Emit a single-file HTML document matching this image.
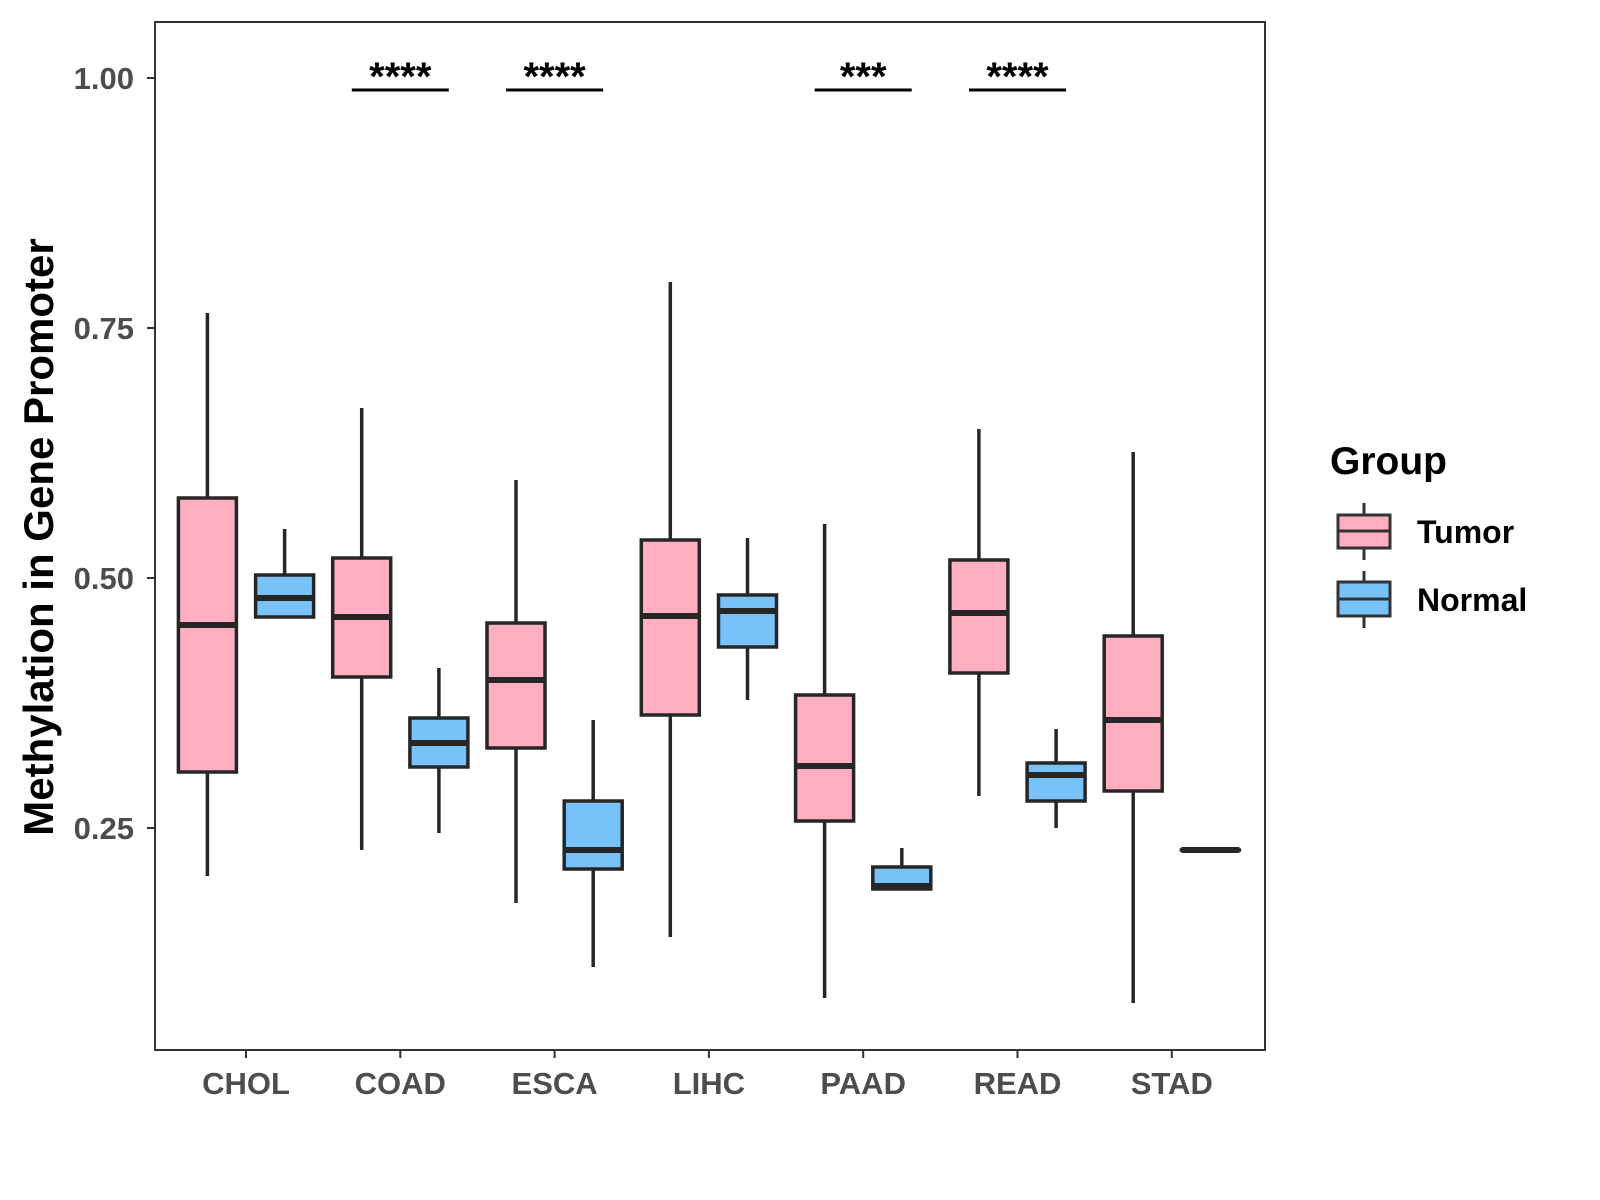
<!DOCTYPE html>
<html><head><meta charset="utf-8"><style>
body{margin:0;background:#fff}
svg{display:block;font-family:"Liberation Sans",Arial,sans-serif}
</style></head><body>
<svg id="chart" width="1600" height="1200" viewBox="0 0 1600 1200" xmlns="http://www.w3.org/2000/svg">
<rect x="155" y="22" width="1110" height="1028" fill="#fff" stroke="#333" stroke-width="2"/>
<g id="yaxis"></g>
<g id="xaxis"></g>
<g id="boxes"></g>
<g id="sig"></g>
<text transform="translate(53,537) rotate(-90)" text-anchor="middle" font-size="42" font-weight="bold" fill="#000">Methylation in Gene Promoter</text>
<g>
<text x="1330" y="474" font-size="39" font-weight="bold">Group</text>
<g>
<line x1="1364" y1="503" x2="1364" y2="560" stroke="#333" stroke-width="3"/>
<rect x="1338" y="515" width="52" height="33" fill="#FFAFC1" stroke="#333" stroke-width="3"/>
<line x1="1338" y1="531" x2="1390" y2="531" stroke="#333" stroke-width="3"/>
<text x="1417" y="543" font-size="32" font-weight="bold">Tumor</text></g>
<g>
<line x1="1364" y1="571" x2="1364" y2="628" stroke="#333" stroke-width="3"/>
<rect x="1338" y="582" width="52" height="34" fill="#79C2F9" stroke="#333" stroke-width="3"/>
<line x1="1338" y1="599" x2="1390" y2="599" stroke="#333" stroke-width="3"/>
<text x="1417" y="611" font-size="32" font-weight="bold">Normal</text></g>
</g>
</svg>
<script>
const categories=["CHOL","COAD","ESCA","LIHC","PAAD","READ","STAD"];
// [lowWhisker, q1, median, q3, highWhisker]
const tumorStats=[[0.202,0.306,0.453,0.580,0.765],[0.228,0.401,0.461,0.520,0.670],[0.175,0.330,0.398,0.455,0.598],[0.141,0.363,0.462,0.538,0.796],[0.080,0.257,0.312,0.383,0.554],[0.282,0.405,0.465,0.518,0.649],[0.075,0.287,0.358,0.442,0.626]];
const normalStats=[[0.461,0.461,0.480,0.503,0.549],[0.245,0.311,0.335,0.360,0.410],[0.111,0.209,0.228,0.277,0.358],[0.378,0.431,0.467,0.483,0.540],[0.189,0.189,0.192,0.211,0.230],[0.250,0.277,0.303,0.315,0.349],[0.228,0.228,0.228,0.228,0.228]];
const yTicks=[0.25,0.50,0.75,1.00];
const yTickLabels=["0.25","0.50","0.75","1.00"];
const sigCategories=["COAD","ESCA","PAAD","READ"];
const sigLabels=["****","****","***","****"];
const sigLevel=[1.012];

const NS="http://www.w3.org/2000/svg";
const y=v=>78+(1-v)*1000;
const x=i=>246+i*154.3;
function mk(tag,attrs,parent){const e=document.createElementNS(NS,tag);for(const k in attrs)e.setAttribute(k,attrs[k]);parent.appendChild(e);return e;}
const ya=document.getElementById('yaxis'),xa=document.getElementById('xaxis'),bx=document.getElementById('boxes'),sg=document.getElementById('sig');
yTicks.forEach((t,i)=>{
  const l=mk('line',{x1:147,x2:155,y1:y(t),y2:y(t),stroke:'#333','stroke-width':2},ya);
  
  
  const tx=mk('text',{x:134,y:y(t)+11,'text-anchor':'end','font-size':31,'font-weight':'bold',fill:'#4d4d4d'},ya);
  tx.textContent=yTickLabels[i];
  
  
});
categories.forEach((c,i)=>{
  const l=mk('line',{x1:x(i),x2:x(i),y1:1050,y2:1058,stroke:'#333','stroke-width':2},xa);
  
  
  const tx=mk('text',{x:x(i),y:1094,'text-anchor':'middle','font-size':31,'font-weight':'bold',fill:'#4d4d4d'},xa);
  tx.textContent=c;
  
  
});
function box(cx,s,fill,name){
  const g=mk('g',{},bx);
  
  
  const w=58;
  mk('line',{x1:cx,x2:cx,y1:y(s[4]),y2:y(s[3]),stroke:'#262626','stroke-width':3.5},g);
  mk('line',{x1:cx,x2:cx,y1:y(s[1]),y2:y(s[0]),stroke:'#262626','stroke-width':3.5},g);
  mk('rect',{x:cx-w/2,y:y(s[3]),width:w,height:Math.max(y(s[1])-y(s[3]),0.01),fill:fill,stroke:'#262626','stroke-width':3.5},g);
  mk('line',{x1:cx-w/2,x2:cx+w/2,y1:y(s[2]),y2:y(s[2]),stroke:'#262626','stroke-width':6},g);
}
categories.forEach((c,i)=>{
  box(x(i)-38.6,tumorStats[i],'#FFAFC1','box-tumor-'+c.toLowerCase());
  box(x(i)+38.6,normalStats[i],'#79C2F9','box-normal-'+c.toLowerCase());
});
sigCategories.forEach((c,k)=>{
  const i=categories.indexOf(c);
  const l=mk('line',{x1:x(i)-48.5,x2:x(i)+48.5,y1:y(0.988),y2:y(0.988),stroke:'#000','stroke-width':3},sg);
  
  
  const tx=mk('text',{x:x(i),y:y(sigLevel[0])+24,'text-anchor':'middle','font-size':40,'font-weight':'bold',fill:'#000'},sg);
  tx.textContent=sigLabels[k];
  
  
});
</script>
</body></html>
